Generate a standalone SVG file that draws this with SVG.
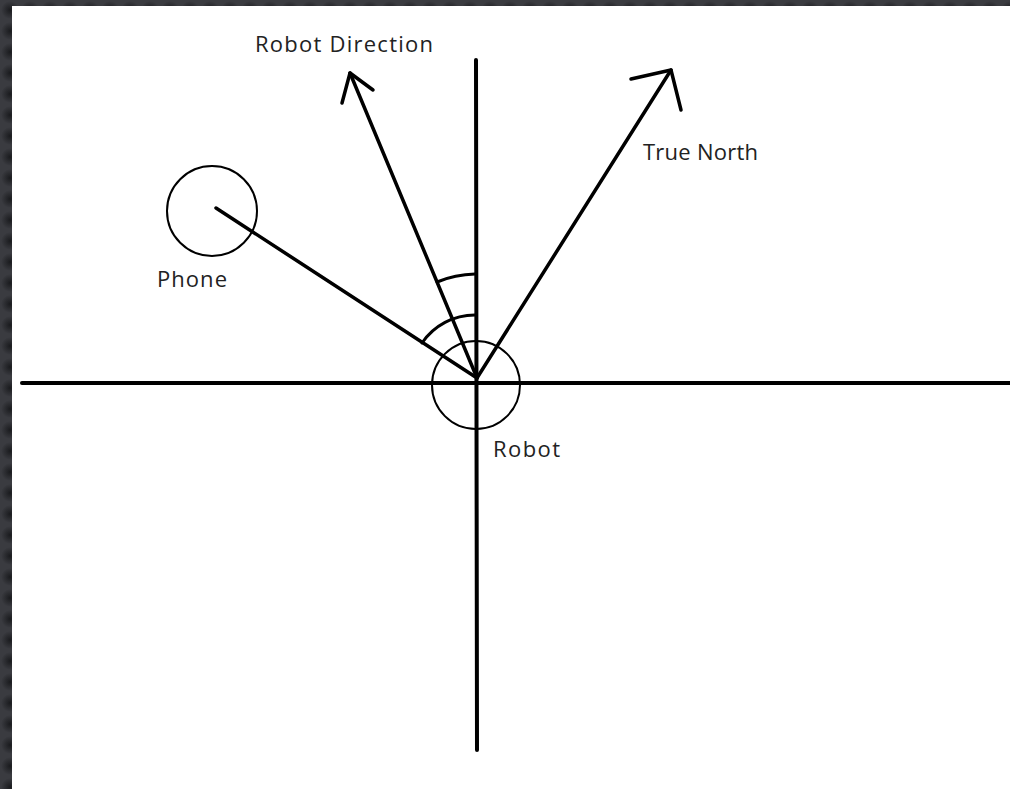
<svg xmlns="http://www.w3.org/2000/svg" width="1010" height="789" viewBox="0 0 1010 789">
<defs>
<radialGradient id="spot">
<stop offset="0" stop-color="#1a1b1e"/>
<stop offset="1" stop-color="#3a3b40"/>
</radialGradient>
<pattern id="tex" x="0" y="0" width="20" height="21" patternUnits="userSpaceOnUse">
<rect width="20" height="21" fill="#3a3b40"/>
<circle cx="10" cy="10" r="9" fill="url(#spot)"/>
</pattern>
<style>
.ln{stroke:#000;fill:none;stroke-linecap:round;stroke-linejoin:round}
.ax{stroke-width:4}
.ray{stroke-width:3.5}
.arc{stroke-width:3}
.ring{stroke:#000;stroke-width:2;fill:none}
.lbl{font-family:"Open Sans","Noto Sans","DejaVu Sans",sans-serif;font-size:22px;fill:#222}
</style>
</defs>
<rect width="1010" height="789" fill="url(#tex)"/>
<rect x="12" y="6" width="998" height="783" fill="#fff"/>
<g id="connectors">
<line class="ln ax" x1="22" y1="383" x2="1010" y2="383"/>
<line class="ln ax" x1="476" y1="60" x2="477" y2="750"/>
<line class="ln ray" x1="477" y1="378" x2="216" y2="208"/>
<polyline class="ln ray" points="477,378 350,73"/>
<polyline class="ln ray" points="342,103 350,73 373,90"/>
<polyline class="ln ray" points="477,378 671,70"/>
<polyline class="ln ray" points="631,79 671,70 681,110"/>
<path class="ln arc" d="M437,282 A104,104 0 0 1 475,274"/>
<path class="ln arc" d="M422,343 A64,64 0 0 1 475,315"/>
</g>
<g id="robot">
<circle class="ring" cx="476" cy="385" r="44"/>
<text class="lbl" x="493" y="457" textLength="67">Robot</text>
</g>
<g id="phone">
<circle class="ring" cx="212" cy="211" r="45"/>
<text class="lbl" x="157" y="287" textLength="70">Phone</text>
</g>
<g id="robot-direction">
<text class="lbl" x="255" y="52" textLength="178">Robot Direction</text>
</g>
<g id="true-north">
<text class="lbl" x="643" y="160" textLength="115">True North</text>
</g>
</svg>
